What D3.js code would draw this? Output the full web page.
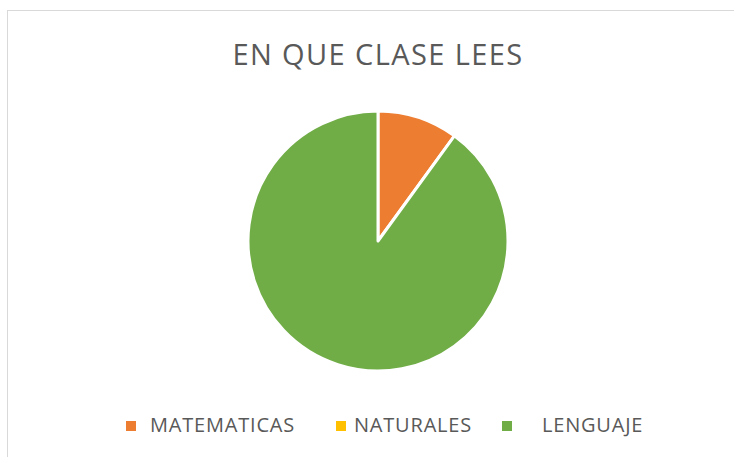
<!DOCTYPE html>
<html>
<head>
<meta charset="utf-8">
<script src="https://cdn.jsdelivr.net/npm/d3@7"></script>
<style>
  body { margin: 0; background: #fff; }
  text { font-family: "Open Sans", "Noto Sans", sans-serif; fill: #595959; }
</style>
</head>
<body>
<div class="chart"></div>
<script>
"use strict";
var categories = ["MATEMATICAS", "NATURALES", "LENGUAJE"];
var values = [1, 0, 9];
var colors = ["#ed7d31", "#ffc000", "#70ad47"];
var title = "EN QUE CLASE LEES";

var width = 734, height = 457;
var cx = 378, cy = 241, radius = 130;

var svg = d3.select(".chart").append("svg")
    .attr("width", width)
    .attr("height", height);

// chart area border
svg.append("rect")
    .attr("x", 7.5).attr("y", 10.5)
    .attr("width", width + 10).attr("height", height + 10)
    .style("fill", "#fff")
    .style("stroke", "#d9d9d9")
    .style("stroke-width", 1);

// title
svg.append("text")
    .attr("x", cx)
    .attr("y", 65)
    .attr("text-anchor", "middle")
    .style("font-size", "29px")
    .style("letter-spacing", "1.4px")
    .text(title);

var data = categories.map(function(c, i){
  return { name: c, value: values[i], color: colors[i] };
});

var pie = d3.pie()
    .sort(null)
    .value(function(d){ return d.value; });

var arc = d3.arc()
    .innerRadius(0)
    .outerRadius(radius);

var g = svg.append("g")
    .attr("transform", "translate(" + cx + "," + cy + ")");

g.selectAll("path")
    .data(pie(data).filter(function(d){ return d.value > 0; }))
    .enter().append("path")
    .attr("d", arc)
    .style("fill", function(d){ return d.data.color; })
    .style("stroke", "#fff")
    .style("stroke-width", 3)
    .style("stroke-linejoin", "round");

// legend
var legendX = [126, 336, 502];   // marker left edges
var labelGap = [14, 8, 30];      // space between marker and label
var legend = svg.append("g").attr("class", "legend");
var items = legend.selectAll(".item")
    .data(data)
    .enter().append("g")
    .attr("class", "item")
    .attr("transform", function(d, i){ return "translate(" + legendX[i] + ",0)"; });

items.append("rect")
    .attr("x", 0).attr("y", 421)
    .attr("width", 10).attr("height", 10)
    .style("fill", function(d){ return d.color; });

items.append("text")
    .attr("x", function(d, i){ return 10 + labelGap[i]; })
    .attr("y", 432)
    .style("font-size", "20px")
    .style("letter-spacing", "0.8px")
    .text(function(d){ return d.name; });
</script>
</body>
</html>
